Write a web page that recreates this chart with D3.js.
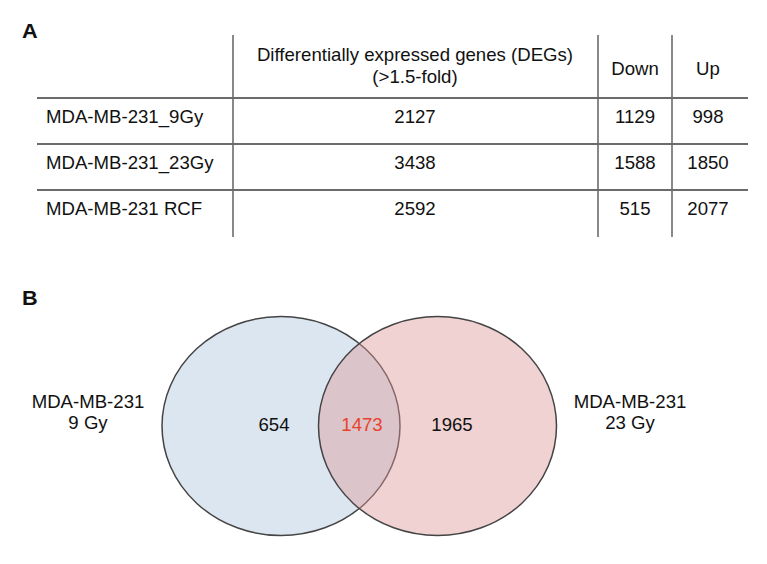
<!DOCTYPE html>
<html>
<head>
<meta charset="utf-8">
<script src="https://cdn.jsdelivr.net/npm/d3@7"></script>
<style>
  html, body { margin: 0; padding: 0; background: #fff; }
  svg { display: block; }
  text { font-family: "Liberation Sans", Arial, Helvetica, sans-serif; fill: #111; }
</style>
</head>
<body>
<svg id="chart" width="767" height="564"></svg>
<script>
// ---- Data ----
const rowLabels = ["MDA-MB-231_9Gy", "MDA-MB-231_23Gy", "MDA-MB-231 RCF"];
const columnKeys = ["deg", "down", "up"];
const columnHeaders = [["Differentially expressed genes (DEGs)", "(>1.5-fold)"], ["Down"], ["Up"]];
const degTotals = [2127, 3438, 2592];
const downCounts = [1129, 1588, 515];
const upCounts = [998, 1850, 2077];

const vennSetLabels = [["MDA-MB-231", "9 Gy"], ["MDA-MB-231", "23 Gy"]];
const vennOnlyFirst = 654;
const vennOverlap = 1473;
const vennOnlySecond = 1965;

// ---- Drawing ----
const svg = d3.select("#chart");
const XS = 1.035;      // slight horizontal stretch of the original glyphs
const FS = 18;
const lineColor = "#6b6b6b";

function txt(g, x, y, s, opts = {}) {
  return g.append("text")
    .attr("transform", `translate(${x},${y}) scale(${XS},1)`)
    .attr("text-anchor", opts.anchor || "middle")
    .attr("font-size", opts.size || FS)
    .attr("font-weight", opts.weight || "normal")
    .style("fill", opts.fill || "#111")
    .text(s);
}

// Panel letters
txt(svg, 22, 38, "A", { anchor: "start", size: 21, weight: "bold" });
txt(svg, 22, 305, "B", { anchor: "start", size: 21, weight: "bold" });

// ---- Table (panel A) ----
const tableG = svg.append("g");
const y = d3.scaleBand().domain(rowLabels).range([98, 236]).paddingInner(0).paddingOuter(0);
const colCenter = d3.scaleOrdinal().domain(columnKeys).range([415, 635, 708]);
const colDividers = [233, 598, 672];

// horizontal rules (above each row)
tableG.selectAll("line.h").data(rowLabels).join("line")
  .attr("class", "h")
  .attr("x1", 37).attr("x2", 748)
  .attr("y1", d => y(d)).attr("y2", d => y(d))
  .attr("stroke", "#3a3a3a").attr("stroke-width", 1.3);

// vertical rules
tableG.selectAll("line.v").data(colDividers).join("line")
  .attr("class", "v")
  .attr("x1", d => d).attr("x2", d => d)
  .attr("y1", 35).attr("y2", 237)
  .attr("stroke", lineColor).attr("stroke-width", 1.6);

// headers
columnHeaders.forEach((lines, i) => {
  const cx = colCenter(columnKeys[i]);
  if (lines.length === 2) {
    txt(tableG, cx, 61, lines[0]);
    txt(tableG, cx, 83, lines[1]);
  } else {
    txt(tableG, cx, 75, lines[0]);
  }
});

// body
const series = { deg: degTotals, down: downCounts, up: upCounts };
rowLabels.forEach((lab, i) => {
  const by = y(lab) + 25;
  txt(tableG, 46, by, lab, { anchor: "start" });
  columnKeys.forEach(k => {
    txt(tableG, colCenter(k), by, String(series[k][i]));
  });
});

// ---- Venn (panel B) ----
const vennG = svg.append("g");
const cx = d3.scaleOrdinal().domain([0, 1]).range([281, 437.5]);
const cy = 426, rx = 119, ry = 109.5;

vennG.append("ellipse")
  .attr("cx", cx(0)).attr("cy", cy).attr("rx", rx).attr("ry", ry)
  .attr("fill", "#dce6f1").attr("stroke", "#444").attr("stroke-width", 1.5);
vennG.append("ellipse")
  .attr("cx", cx(1)).attr("cy", cy).attr("rx", rx).attr("ry", ry)
  .attr("fill", "rgba(220,150,153,0.43)").attr("stroke", "#444").attr("stroke-width", 1.5);

// set labels
const labelX = [88, 630];
vennSetLabels.forEach((lines, i) => {
  txt(vennG, labelX[i], 408, lines[0]);
  txt(vennG, labelX[i], 429, lines[1]);
});

// region counts
txt(vennG, 274, 431, String(vennOnlyFirst));
txt(vennG, 362, 431, String(vennOverlap), { fill: "#e8432a" });
txt(vennG, 452, 431, String(vennOnlySecond));
</script>
</body>
</html>
